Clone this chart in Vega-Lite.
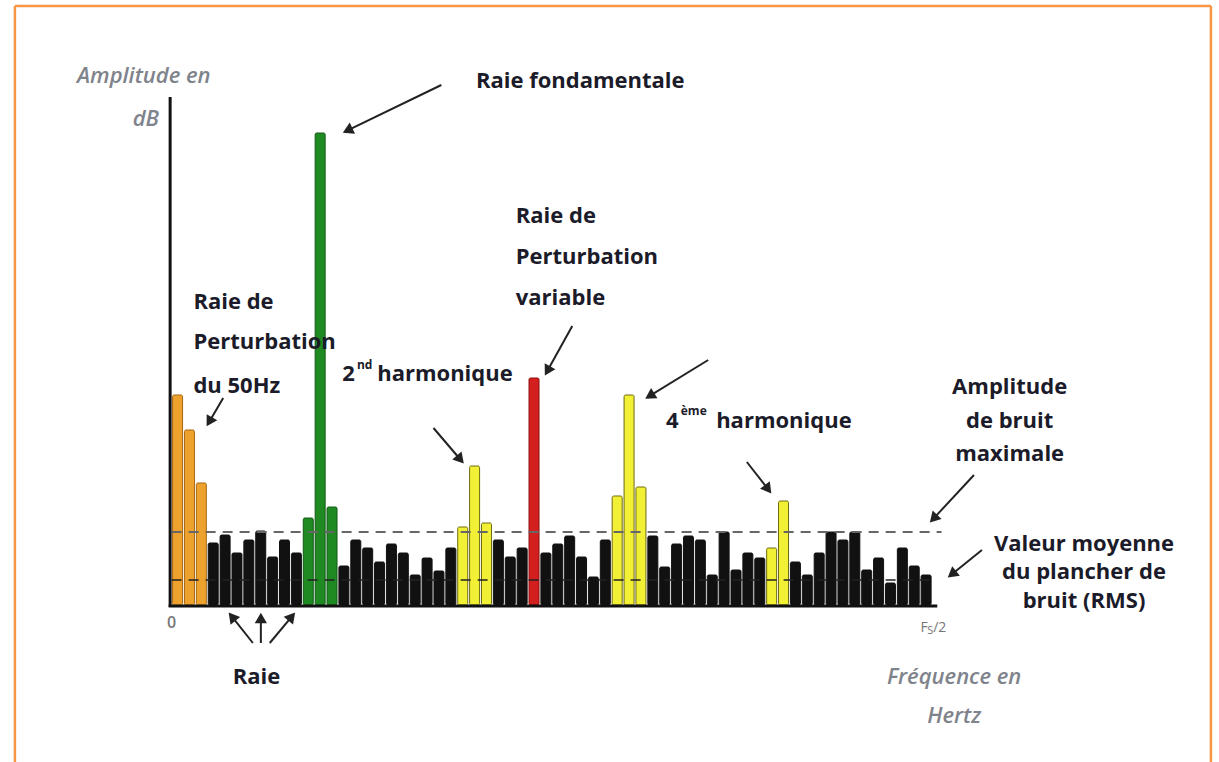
{
  "$schema": "https://vega.github.io/schema/vega-lite/v6.json",
  "width": 1219,
  "height": 762,
  "autosize": {"type": "none"},
  "padding": 0,
  "background": "white",
  "config": {"view": {"stroke": null}},
  "datasets": {
    "bars": [
      {"bin": 1, "amplitude": 210, "type": "Perturbation 50Hz"},
      {"bin": 2, "amplitude": 175, "type": "Perturbation 50Hz"},
      {"bin": 3, "amplitude": 122, "type": "Perturbation 50Hz"},
      {"bin": 4, "amplitude": 62, "type": "Bruit"},
      {"bin": 5, "amplitude": 70, "type": "Bruit"},
      {"bin": 6, "amplitude": 52, "type": "Bruit"},
      {"bin": 7, "amplitude": 65, "type": "Bruit"},
      {"bin": 8, "amplitude": 74, "type": "Bruit"},
      {"bin": 9, "amplitude": 48, "type": "Bruit"},
      {"bin": 10, "amplitude": 65, "type": "Bruit"},
      {"bin": 11, "amplitude": 52, "type": "Bruit"},
      {"bin": 12, "amplitude": 87, "type": "Fondamentale"},
      {"bin": 13, "amplitude": 472, "type": "Fondamentale"},
      {"bin": 14, "amplitude": 98, "type": "Fondamentale"},
      {"bin": 15, "amplitude": 39, "type": "Bruit"},
      {"bin": 16, "amplitude": 65, "type": "Bruit"},
      {"bin": 17, "amplitude": 57, "type": "Bruit"},
      {"bin": 18, "amplitude": 43, "type": "Bruit"},
      {"bin": 19, "amplitude": 61, "type": "Bruit"},
      {"bin": 20, "amplitude": 52, "type": "Bruit"},
      {"bin": 21, "amplitude": 30, "type": "Bruit"},
      {"bin": 22, "amplitude": 47, "type": "Bruit"},
      {"bin": 23, "amplitude": 34, "type": "Bruit"},
      {"bin": 24, "amplitude": 57, "type": "Bruit"},
      {"bin": 25, "amplitude": 78, "type": "Harmonique"},
      {"bin": 26, "amplitude": 139, "type": "Harmonique"},
      {"bin": 27, "amplitude": 82, "type": "Harmonique"},
      {"bin": 28, "amplitude": 65, "type": "Bruit"},
      {"bin": 29, "amplitude": 48, "type": "Bruit"},
      {"bin": 30, "amplitude": 57, "type": "Bruit"},
      {"bin": 31, "amplitude": 227, "type": "Perturbation variable"},
      {"bin": 32, "amplitude": 52, "type": "Bruit"},
      {"bin": 33, "amplitude": 61, "type": "Bruit"},
      {"bin": 34, "amplitude": 69, "type": "Bruit"},
      {"bin": 35, "amplitude": 48, "type": "Bruit"},
      {"bin": 36, "amplitude": 28, "type": "Bruit"},
      {"bin": 37, "amplitude": 65, "type": "Bruit"},
      {"bin": 38, "amplitude": 109, "type": "Harmonique"},
      {"bin": 39, "amplitude": 210, "type": "Harmonique"},
      {"bin": 40, "amplitude": 118, "type": "Harmonique"},
      {"bin": 41, "amplitude": 69, "type": "Bruit"},
      {"bin": 42, "amplitude": 38, "type": "Bruit"},
      {"bin": 43, "amplitude": 61, "type": "Bruit"},
      {"bin": 44, "amplitude": 69, "type": "Bruit"},
      {"bin": 45, "amplitude": 65, "type": "Bruit"},
      {"bin": 46, "amplitude": 30, "type": "Bruit"},
      {"bin": 47, "amplitude": 73, "type": "Bruit"},
      {"bin": 48, "amplitude": 35, "type": "Bruit"},
      {"bin": 49, "amplitude": 52, "type": "Bruit"},
      {"bin": 50, "amplitude": 47, "type": "Bruit"},
      {"bin": 51, "amplitude": 57, "type": "Harmonique"},
      {"bin": 52, "amplitude": 104, "type": "Harmonique"},
      {"bin": 53, "amplitude": 43, "type": "Bruit"},
      {"bin": 54, "amplitude": 30, "type": "Bruit"},
      {"bin": 55, "amplitude": 52, "type": "Bruit"},
      {"bin": 56, "amplitude": 73, "type": "Bruit"},
      {"bin": 57, "amplitude": 65, "type": "Bruit"},
      {"bin": 58, "amplitude": 73, "type": "Bruit"},
      {"bin": 59, "amplitude": 35, "type": "Bruit"},
      {"bin": 60, "amplitude": 47, "type": "Bruit"},
      {"bin": 61, "amplitude": 22, "type": "Bruit"},
      {"bin": 62, "amplitude": 57, "type": "Bruit"},
      {"bin": 63, "amplitude": 39, "type": "Bruit"},
      {"bin": 64, "amplitude": 30, "type": "Bruit"}
    ],
    "frame": [
      {"x": -12.69, "x2": -12.69, "y": -157, "y2": 599},
      {"x": -12.69, "x2": 87.97, "y": 599, "y2": 599},
      {"x": 87.97, "x2": 87.97, "y": -157, "y2": 599}
    ],
    "axes": [
      {"x": 0.374, "x2": 0.374, "y": -2, "y2": 508},
      {"x": 0.25, "x2": 64.94, "y": -1, "y2": -1}
    ],
    "maxline": [{"x": 0.5, "x2": 65.3, "y": 73, "y2": 73}],
    "rmsline": [{"x": 0.5, "x2": 64.5, "y": 25, "y2": 25}],
    "arrows": [
      {"x": 23.2, "y": 520, "x2": 15.31, "y2": 474.6, "angle": -115.6},
      {"x": 4.84, "y": 207, "x2": 3.67, "y2": 183.2, "angle": -149.6},
      {"x": 22.54, "y": 177, "x2": 24.8, "y2": 145.5, "angle": 139.3},
      {"x": 34.22, "y": 279, "x2": 32.13, "y2": 234.2, "angle": -150.75},
      {"x": 45.66, "y": 245, "x2": 40.74, "y2": 209.1, "angle": -121.4},
      {"x": 48.91, "y": 143, "x2": 50.7, "y2": 115.8, "angle": 142.9},
      {"x": 68.03, "y": 130, "x2": 64.62, "y2": 86.4, "angle": -136.8},
      {"x": 68.7, "y": 55, "x2": 66.17, "y2": 30.7, "angle": -128.7},
      {"x": 7.34, "y": -38, "x2": 5.58, "y2": -11.7, "angle": -38.9},
      {"x": 8.01, "y": -38, "x2": 8.01, "y2": -13, "angle": 0},
      {"x": 8.76, "y": -38, "x2": 10.61, "y2": -11.6, "angle": 40}
    ],
    "labelsLeft": [
      {"x": 29.46, "y": 382, "text": "Raie de"},
      {"x": 29.46, "y": 341, "text": "Perturbation"},
      {"x": 29.46, "y": 300, "text": "variable"},
      {"x": 2.336, "y": 296, "text": "Raie de"},
      {"x": 2.336, "y": 256, "text": "Perturbation"},
      {"x": 2.336, "y": 212, "text": "du 50Hz"},
      {"x": 14.86, "y": 224, "text": "2"},
      {"x": 17.8, "y": 224, "text": "harmonique"},
      {"x": 42.1, "y": 177, "text": "4"},
      {"x": 46.33, "y": 177, "text": "harmonique"}
    ],
    "labelsCenter": [
      {"x": 34.89, "y": 517, "text": "Raie fondamentale"},
      {"x": 71.03, "y": 211, "text": "Amplitude"},
      {"x": 71.03, "y": 177, "text": "de bruit"},
      {"x": 71.03, "y": 144, "text": "maximale"},
      {"x": 77.29, "y": 54, "text": "Valeur moyenne"},
      {"x": 77.29, "y": 26, "text": "du plancher de"},
      {"x": 77.29, "y": -3, "text": "bruit (RMS)"},
      {"x": 7.64, "y": -79, "text": "Raie"}
    ],
    "superscripts": [
      {"x": 16.1, "y": 236, "text": "nd"},
      {"x": 43.35, "y": 190, "text": "ème"}
    ],
    "axisTitles": [
      {"x": -1.84, "y": 522, "text": "Amplitude en"},
      {"x": -1.67, "y": 479, "text": "dB"},
      {"x": 66.36, "y": -79, "text": "Fréquence en"},
      {"x": 66.36, "y": -118, "text": "Hertz"}
    ],
    "tickText": [
      {"x": 0.5, "y": -23, "text": "0"}
    ],
    "fsText": [
      {"x": 63.52, "y": -27, "text": "F"},
      {"x": 64.6, "y": -27, "text": "/2"}
    ],
    "fsSub": [
      {"x": 64.1, "y": -29, "text": "S"}
    ]
  },
  "layer": [
    {
      "data": {"name": "frame"},
      "mark": {"type": "rule", "color": "#F79646", "strokeWidth": 2.5},
      "encoding": {
        "x": {"field": "x", "type": "quantitative", "axis": null, "scale": {"domain": [-13.524, 88.23], "nice": false, "zero": false}},
        "x2": {"field": "x2"},
        "y": {"field": "y", "type": "quantitative", "axis": null, "scale": {"domain": [-157, 605], "nice": false, "zero": false}},
        "y2": {"field": "y2"}
      }
    },
    {
      "data": {"name": "bars"},
      "mark": {"type": "bar", "size": 10, "strokeWidth": 1, "cornerRadius": 1.5},
      "encoding": {
        "x": {"field": "bin", "type": "quantitative", "axis": null, "scale": {"domain": [-13.524, 88.23], "nice": false, "zero": false}},
        "y": {"field": "amplitude", "type": "quantitative", "axis": null, "scale": {"domain": [-157, 605], "nice": false, "zero": false}},
        "y2": {"datum": 0},
        "color": {"field": "type", "type": "nominal", "legend": null,
          "scale": {"domain": ["Perturbation 50Hz", "Bruit", "Fondamentale", "Harmonique", "Perturbation variable"],
                    "range": ["#EEA22E", "#111111", "#1F8A22", "#F2F034", "#D41F1F"]}},
        "stroke": {"field": "type", "type": "nominal", "legend": null,
          "scale": {"domain": ["Perturbation 50Hz", "Bruit", "Fondamentale", "Harmonique", "Perturbation variable"],
                    "range": ["#A8650F", "#111111", "#145A16", "#6E6A12", "#8E1010"]}}
      }
    },
    {
      "data": {"name": "maxline"},
      "mark": {"type": "rule", "color": "#666666", "strokeWidth": 2, "strokeDash": [10, 7]},
      "encoding": {
        "x": {"field": "x", "type": "quantitative"},
        "x2": {"field": "x2"},
        "y": {"field": "y", "type": "quantitative"},
        "y2": {"field": "y2"}
      }
    },
    {
      "data": {"name": "rmsline"},
      "mark": {"type": "rule", "color": "#222222", "strokeWidth": 1.5, "strokeDash": [10, 7]},
      "encoding": {
        "x": {"field": "x", "type": "quantitative"},
        "x2": {"field": "x2"},
        "y": {"field": "y", "type": "quantitative"},
        "y2": {"field": "y2"}
      }
    },
    {
      "data": {"name": "axes"},
      "mark": {"type": "rule", "color": "#111111", "strokeWidth": 3},
      "encoding": {
        "x": {"field": "x", "type": "quantitative"},
        "x2": {"field": "x2"},
        "y": {"field": "y", "type": "quantitative"},
        "y2": {"field": "y2"}
      }
    },
    {
      "data": {"name": "arrows"},
      "mark": {"type": "rule", "color": "#222222", "strokeWidth": 2},
      "encoding": {
        "x": {"field": "x", "type": "quantitative"},
        "x2": {"field": "x2"},
        "y": {"field": "y", "type": "quantitative"},
        "y2": {"field": "y2"}
      }
    },
    {
      "data": {"name": "arrows"},
      "mark": {"type": "point", "shape": "triangle-up", "filled": true, "color": "#222222", "size": 150, "opacity": 1},
      "encoding": {
        "x": {"field": "x2", "type": "quantitative"},
        "y": {"field": "y2", "type": "quantitative"},
        "angle": {"field": "angle", "type": "quantitative", "scale": null}
      }
    },
    {
      "data": {"name": "labelsLeft"},
      "mark": {"type": "text", "align": "left", "baseline": "alphabetic", "font": "Open Sans", "fontWeight": "bold", "fontSize": 22, "color": "#1b1b29"},
      "encoding": {
        "x": {"field": "x", "type": "quantitative"},
        "y": {"field": "y", "type": "quantitative"},
        "text": {"field": "text"}
      }
    },
    {
      "data": {"name": "labelsCenter"},
      "mark": {"type": "text", "align": "center", "baseline": "alphabetic", "font": "Open Sans", "fontWeight": "bold", "fontSize": 22, "color": "#1b1b29"},
      "encoding": {
        "x": {"field": "x", "type": "quantitative"},
        "y": {"field": "y", "type": "quantitative"},
        "text": {"field": "text"}
      }
    },
    {
      "data": {"name": "superscripts"},
      "mark": {"type": "text", "align": "left", "baseline": "alphabetic", "font": "Open Sans", "fontWeight": "bold", "fontSize": 12, "color": "#1b1b29"},
      "encoding": {
        "x": {"field": "x", "type": "quantitative"},
        "y": {"field": "y", "type": "quantitative"},
        "text": {"field": "text"}
      }
    },
    {
      "data": {"name": "axisTitles"},
      "mark": {"type": "text", "align": "center", "baseline": "alphabetic", "font": "Open Sans", "fontWeight": 600, "fontStyle": "italic", "fontSize": 22, "color": "#7f838b"},
      "encoding": {
        "x": {"field": "x", "type": "quantitative"},
        "y": {"field": "y", "type": "quantitative"},
        "text": {"field": "text"}
      }
    },
    {
      "data": {"name": "tickText"},
      "mark": {"type": "text", "align": "center", "baseline": "alphabetic", "font": "Open Sans", "fontWeight": 600, "fontSize": 16, "color": "#777777"},
      "encoding": {
        "x": {"field": "x", "type": "quantitative"},
        "y": {"field": "y", "type": "quantitative"},
        "text": {"field": "text"}
      }
    },
    {
      "data": {"name": "fsText"},
      "mark": {"type": "text", "align": "left", "baseline": "alphabetic", "font": "Open Sans", "fontSize": 14, "color": "#777777"},
      "encoding": {
        "x": {"field": "x", "type": "quantitative"},
        "y": {"field": "y", "type": "quantitative"},
        "text": {"field": "text"}
      }
    },
    {
      "data": {"name": "fsSub"},
      "mark": {"type": "text", "align": "left", "baseline": "alphabetic", "font": "Open Sans", "fontSize": 11, "color": "#777777"},
      "encoding": {
        "x": {"field": "x", "type": "quantitative"},
        "y": {"field": "y", "type": "quantitative"},
        "text": {"field": "text"}
      }
    }
  ]
}
